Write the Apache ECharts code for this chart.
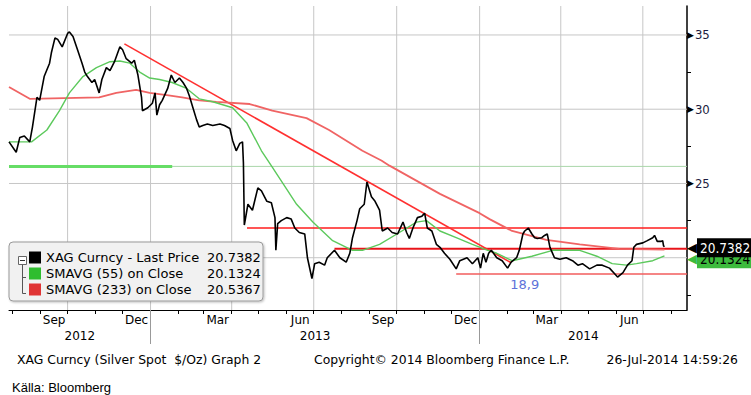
<!DOCTYPE html>
<html><head><meta charset="utf-8">
<script src="https://cdn.jsdelivr.net/npm/echarts@6/dist/echarts.min.js"></script>
<style>html,body{margin:0;padding:0;background:#fff}#c{width:751px;height:395px}</style>
</head><body><div id="c"></div>
<script>
// ---------- data ----------
const priceDates = ['2012-07-28','2012-08-05','2012-08-09','2012-08-14','2012-08-20','2012-08-23','2012-08-28','2012-08-31','2012-09-05','2012-09-11','2012-09-13','2012-09-17','2012-09-20','2012-09-25','2012-10-01','2012-10-03','2012-10-07','2012-10-12','2012-10-17','2012-10-20','2012-10-23','2012-10-28','2012-10-31','2012-11-05','2012-11-08','2012-11-13','2012-11-17','2012-11-22','2012-11-28','2012-12-01','2012-12-05','2012-12-11','2012-12-14','2012-12-18','2012-12-22','2012-12-23','2012-12-29','2013-01-03','2013-01-06','2013-01-08','2013-01-11','2013-01-14','2013-01-20','2013-01-24','2013-01-28','2013-02-02','2013-02-06','2013-02-10','2013-02-13','2013-02-17','2013-02-21','2013-02-24','2013-02-28','2013-03-05','2013-03-11','2013-03-19','2013-03-24','2013-03-30','2013-04-02','2013-04-06','2013-04-10','2013-04-13','2013-04-14','2013-04-15','2013-04-19','2013-04-24','2013-04-30','2013-05-04','2013-05-10','2013-05-15','2013-05-19','2013-05-20','2013-05-22','2013-05-26','2013-06-01','2013-06-06','2013-06-10','2013-06-15','2013-06-21','2013-06-24','2013-06-29','2013-07-02','2013-07-07','2013-07-13','2013-07-16','2013-07-24','2013-07-30','2013-08-06','2013-08-10','2013-08-13','2013-08-18','2013-08-21','2013-08-26','2013-08-29','2013-09-03','2013-09-07','2013-09-12','2013-09-15','2013-09-21','2013-09-26','2013-10-02','2013-10-08','2013-10-12','2013-10-15','2013-10-19','2013-10-24','2013-10-29','2013-11-01','2013-11-04','2013-11-09','2013-11-14','2013-11-18','2013-11-23','2013-11-29','2013-12-06','2013-12-10','2013-12-18','2013-12-24','2013-12-30','2014-01-02','2014-01-05','2014-01-08','2014-01-11','2014-01-14','2014-01-20','2014-01-26','2014-02-01','2014-02-05','2014-02-11','2014-02-14','2014-02-18','2014-02-20','2014-02-24','2014-02-28','2014-03-03','2014-03-06','2014-03-11','2014-03-14','2014-03-17','2014-03-20','2014-03-25','2014-03-31','2014-04-07','2014-04-14','2014-04-20','2014-04-25','2014-05-03','2014-05-11','2014-05-17','2014-05-25','2014-05-31','2014-06-03','2014-06-09','2014-06-14','2014-06-19','2014-06-21','2014-06-24','2014-07-01','2014-07-06','2014-07-12','2014-07-14','2014-07-17','2014-07-21','2014-07-23','2014-07-24','2014-07-25'];
const priceValues = [27.8,27.1,28.1,28.2,27.8,28.8,30.8,30.6,32.2,33.1,33.8,34.8,34.7,34.2,35.1,35.2,34.9,34.0,33.1,32.5,32.2,31.8,32.0,31.1,32.0,32.8,32.6,33.2,34.2,34.0,33.4,33.1,33.3,32.3,30.8,29.9,30.1,30.4,31.1,29.6,30.3,30.6,31.4,32.3,31.8,32.1,31.8,31.4,30.9,30.1,29.3,28.8,28.9,29.0,28.9,29.0,28.9,28.7,27.9,27.2,27.7,27.8,26.4,22.2,23.6,23.2,24.7,24.5,23.8,23.7,22.7,20.5,22.3,22.5,22.7,22.6,22.0,21.7,21.6,20.0,18.6,19.6,19.7,19.5,20.0,20.5,20.0,19.7,20.3,21.35,22.5,23.3,23.6,25.1,24.1,23.8,23.2,21.8,22.0,21.7,21.6,22.4,21.7,21.3,22.0,22.7,22.8,23.0,22.0,21.8,20.9,20.7,20.3,19.9,19.25,19.8,20.0,19.6,20.0,19.3,20.3,19.7,20.3,20.5,20.0,19.8,19.3,19.7,20.0,20.5,21.6,21.8,22.0,21.6,21.35,21.3,21.35,21.5,21.6,20.7,20.0,19.9,20.0,19.8,19.5,19.6,19.25,19.5,19.5,19.3,18.9,18.7,19.0,19.5,19.8,20.7,20.9,21.0,21.15,21.35,21.5,21.1,21.1,21.15,20.8,20.74];

const sma55Dates = ['2012-07-28','2012-08-22','2012-09-08','2012-09-22','2012-10-03','2012-10-18','2012-11-02','2012-11-17','2012-11-28','2012-12-09','2012-12-20','2012-12-31','2013-01-11','2013-01-25','2013-02-10','2013-02-24','2013-03-11','2013-04-02','2013-04-18','2013-05-04','2013-05-16','2013-06-12','2013-06-30','2013-07-22','2013-08-13','2013-08-24','2013-09-12','2013-10-04','2013-10-23','2013-11-03','2013-11-18','2013-12-06','2013-12-24','2014-01-10','2014-01-20','2014-02-06','2014-02-28','2014-03-23','2014-04-22','2014-05-11','2014-05-28','2014-06-13','2014-06-24','2014-07-12','2014-07-25'];
const sma55Values = [27.8,27.8,28.6,29.9,31.1,32.2,32.8,33.2,33.25,33.1,32.5,32.1,32.0,31.8,31.4,30.7,30.5,30.1,29.05,27.2,26.1,23.6,22.4,21.15,20.5,20.5,20.9,21.7,22.4,22.5,21.8,21.35,20.9,20.5,20.3,19.8,20.1,20.5,20.5,20.1,19.6,19.5,19.6,19.8,20.13];

const sma233Dates = ['2012-07-28','2012-08-20','2012-11-05','2012-11-24','2012-12-16','2012-12-31','2013-01-19','2013-02-05','2013-02-24','2013-03-15','2013-04-21','2013-05-16','2013-06-23','2013-07-18','2013-08-24','2013-09-14','2013-09-23','2013-11-18','2014-01-01','2014-01-12','2014-02-06','2014-03-16','2014-04-22','2014-06-05','2014-07-25'];
const sma233Values = [31.5,30.7,30.8,31.1,31.3,31.1,30.95,30.8,30.6,30.5,30.35,29.9,29.4,28.6,27.2,26.55,26.2,24.3,23.0,22.6,21.8,21.2,20.9,20.6,20.54];

const seriesNames = ['XAG Curncy - Last Price', 'SMAVG (55) on Close', 'SMAVG (233) on Close'];
const lastValues = ['20.7382', '20.1324', '20.5367'];

// drawn annotations
const trendDates = ['2012-12-03', '2014-02-05'];
const trendValues = [34.4, 19.66];
const levelStarts = ['2012-07-28', '2012-07-28', '2013-04-18', '2013-07-24', '2013-12-06'];
const levelEnds = [null, '2013-01-25', null, null, null];   // null = runs to the right axis
const levelValues = [26.15, 26.15, 22.0, 20.6, 18.9];
const levelNote = { text: '18,9', date: '2014-02-20', value: 18.9 };

// axes
const axisStart = '2012-07-28';
const axisEnd = '2014-08-19';
const yMin = 16.48, yMax = 36.95;
const yGridValues = [20, 25, 30, 35];
const yLabelValues = [25, 30, 35];          // the 20 label is hidden behind the value tags
const yMinorTicks = [17.5, 22.5, 27.5, 32.5];
const quarterLines = ['2012-10-01','2013-01-01','2013-04-01','2013-07-01','2013-10-01','2014-01-01','2014-04-01','2014-07-01'];
const yearBreaks = ['2013-01-01', '2014-01-01'];
const labelMonths = ['Mar', 'Jun', 'Sep', 'Dec'];
const monthNames = ['Jan','Feb','Mar','Apr','May','Jun','Jul','Aug','Sep','Oct','Nov','Dec'];

// ---------- helpers ----------
function ts(s) { const p = s.split('-').map(Number); return new Date(p[0], p[1] - 1, p[2]).getTime(); }
const xMin = ts(axisStart), xMax = ts(axisEnd);
const monthStarts = [], monthMids = [];
{
  const a = new Date(xMin); let y = a.getFullYear(), m = a.getMonth() + 1;
  while (true) {
    const t = new Date(y, m, 1).getTime();
    if (t > xMax) break;
    monthStarts.push(t);
    const nt = new Date(y, m + 1, 1).getTime();
    if (labelMonths.indexOf(monthNames[new Date(t).getMonth()]) >= 0) monthMids.push((t + nt) / 2);
    m++;
  }
}
const yearCenters = [];
{
  const y0 = new Date(xMin).getFullYear(), y1 = new Date(xMax).getFullYear();
  for (let y = y0; y <= y1; y++) {
    const s = Math.max(new Date(y, 0, 1).getTime(), xMin);
    const e = Math.min(new Date(y + 1, 0, 1).getTime(), xMax);
    yearCenters.push((s + e) / 2);
  }
}
const zip = (d, v) => d.map((x, i) => [ts(x), v[i]]);

const F = "'DejaVu Sans',sans-serif";
const FC = "'DejaVu Sans Condensed','DejaVu Sans',sans-serif";
const lineColors = ['#000000', '#5cc95c', '#f06464'];
const legendColors = ['#000000', '#2fbd2f', '#e03434'];
const tagBg = ['#000000', '#3dbb3d', '#e03434'];
const tagFg = ['#ffffff', '#000000', '#ffffff'];

function tag(i, dy) {
  return {
    silent: true, symbol: ['none', 'none'],
    lineStyle: { color: 'rgba(0,0,0,0)', width: 0 },
    label: {
      show: true, position: 'end', distance: 0, offset: [0, dy],
      formatter: '{a|◀}{b|' + lastValues[i] + '}',
      rich: {
        a: { color: tagBg[i], fontSize: 13, fontFamily: 'DejaVu Sans', verticalAlign: 'middle' },
        b: { color: tagFg[i], backgroundColor: tagBg[i], fontFamily: FC, fontSize: 13.5, padding: [3, 3, 2, 3], verticalAlign: 'middle' }
      }
    },
    data: [{ yAxis: Number(lastValues[i]) }]
  };
}

const levelStyles = [
  { color: '#a9d6a9', width: 1 },
  { color: '#66dd66', width: 3 },
  { color: '#ff1c1c', width: 1.5 },
  { color: '#e8141a', width: 2 },
  { color: '#f25c5c', width: 1.5 }
];
const gridColor = '#c6c6c6';

const series = [];
quarterLines.forEach((d, i) => series.push({
  name: 'vgrid' + i, type: 'line', symbol: 'none', silent: true, z: 1,
  lineStyle: { color: gridColor, width: 1 }, itemStyle: { color: gridColor },
  data: [[ts(d), yMin], [ts(d), yMax]]
}));
yGridValues.forEach((v, i) => series.push({
  name: 'hgrid' + i, type: 'line', symbol: 'none', silent: true, z: 1,
  lineStyle: { color: gridColor, width: 1 }, itemStyle: { color: gridColor },
  data: [[xMin, v], [xMax, v]]
}));
levelValues.forEach((v, i) => {
  const s = {
    name: 'level' + i, type: 'line', silent: true, z: 2, symbol: 'none',
    lineStyle: levelStyles[i], itemStyle: { color: levelStyles[i].color },
    data: [[ts(levelStarts[i]), v], [levelEnds[i] ? ts(levelEnds[i]) : xMax, v]]
  };
  if (v === levelNote.value) {
    s.markPoint = {
      silent: true, symbol: 'circle', symbolSize: 1, itemStyle: { color: 'rgba(0,0,0,0)' },
      label: { show: true, position: 'bottom', distance: 3, formatter: levelNote.text, color: '#5d72d9', fontFamily: F, fontSize: 13 },
      data: [{ coord: [ts(levelNote.date), levelNote.value] }]
    };
  }
  series.push(s);
});
series.push({
  name: 'trend', type: 'line', silent: true, z: 2, symbol: 'none',
  lineStyle: { color: '#ff3030', width: 1.6 }, itemStyle: { color: '#ff3030' },
  data: zip(trendDates, trendValues)
});
series.push({
  name: seriesNames[2], type: 'line', symbol: 'none', z: 3,
  lineStyle: { color: lineColors[2], width: 1.8 }, itemStyle: { color: legendColors[2] },
  data: zip(sma233Dates, sma233Values)
});
series.push({
  name: seriesNames[1], type: 'line', symbol: 'none', z: 4,
  lineStyle: { color: lineColors[1], width: 1.4 }, itemStyle: { color: legendColors[1] },
  data: zip(sma55Dates, sma55Values), markLine: tag(1, 3)
});
series.push({
  name: seriesNames[0], type: 'line', symbol: 'none', z: 5,
  lineStyle: { color: lineColors[0], width: 1.6 }, itemStyle: { color: legendColors[0] },
  data: zip(priceDates, priceValues), markLine: tag(0, 1)
});

const chart = echarts.init(document.getElementById('c'), null, { renderer: 'svg' });
chart.setOption({
  animation: false,
  backgroundColor: '#ffffff',
  textStyle: { fontFamily: F },
  grid: { left: 9, right: 64, top: 6, bottom: 85, containLabel: false },
  title: [
    { text: 'XAG Curncy (Silver Spot  $/Oz) Graph 2', left: 12, top: 348, textStyle: { fontFamily: F, fontSize: 12.4, fontWeight: 'normal', color: '#000' } },
    { text: 'Copyright© 2014 Bloomberg Finance L.P.', left: 309, top: 348, textStyle: { fontFamily: F, fontSize: 12.4, fontWeight: 'normal', color: '#000' } },
    { text: '26-Jul-2014 14:59:26', right: 8, top: 348, textStyle: { fontFamily: F, fontSize: 12.4, fontWeight: 'normal', color: '#000' } },
    { text: 'Källa: Bloomberg', left: 7, top: 376, textStyle: { fontFamily: "'Liberation Sans Narrow','Liberation Sans',sans-serif", fontSize: 13, fontWeight: 'normal', color: '#000' } }
  ],
  legend: {
    data: seriesNames,
    orient: 'vertical', left: 9, top: 242,
    padding: [9, 2, 5, 20], itemWidth: 12, itemHeight: 12, itemGap: 3,
    icon: 'rect', selectedMode: false,
    backgroundColor: '#f1f1f1', borderColor: '#9a9a9a', borderWidth: 1, borderRadius: 4,
    shadowColor: 'rgba(0,0,0,0.25)', shadowBlur: 2, shadowOffsetX: 1, shadowOffsetY: 1,
    formatter: n => '{n|' + n + '}{v|' + lastValues[seriesNames.indexOf(n)] + '}',
    textStyle: {
      fontFamily: F, fontSize: 13, color: '#000',
      rich: {
        n: { width: 161, fontFamily: F, fontSize: 13, color: '#000', lineHeight: 14 },
        v: { width: 54, fontFamily: F, fontSize: 13, color: '#000', lineHeight: 14 }
      }
    }
  },
  xAxis: [
    {
      type: 'value', min: xMin, max: xMax, position: 'bottom',
      axisLine: { show: true, lineStyle: { color: '#000', width: 1 } },
      axisTick: { show: true, length: 4, inside: false, customValues: monthStarts, lineStyle: { color: '#000' } },
      axisLabel: {
        show: true, customValues: monthMids, margin: 4, color: '#000', fontFamily: F, fontSize: 12,
        formatter: v => monthNames[new Date(v).getMonth()]
      },
      splitLine: { show: false }
    },
    {
      type: 'value', min: xMin, max: xMax, position: 'bottom', offset: 0,
      axisLine: { show: false },
      axisTick: { show: true, length: 34, inside: false, customValues: yearBreaks.map(ts), lineStyle: { color: '#999', width: 1 } },
      axisLabel: {
        show: true, customValues: yearCenters, margin: 20, color: '#000', fontFamily: F, fontSize: 12,
        formatter: v => String(new Date(v).getFullYear())
      },
      splitLine: { show: false }
    }
  ],
  yAxis: {
    type: 'value', position: 'right', min: yMin, max: yMax,
    axisLine: { show: true, lineStyle: { color: '#000', width: 1.5 } },
    axisTick: { show: true, length: 4, inside: false, customValues: yMinorTicks, lineStyle: { color: '#000' } },
    axisLabel: {
      show: true, customValues: yLabelValues, margin: 0,
      formatter: v => '{t|▶}{v|' + v + '}',
      rich: {
        t: { fontSize: 9, color: '#000', fontFamily: 'DejaVu Sans' },
        v: { fontSize: 13, color: '#1c1c40', fontFamily: FC, padding: [0, 0, 0, 1] }
      }
    },
    splitLine: { show: false }
  },
  graphic: [
    { type: 'rect', shape: { x: 18.5, y: 256.5, width: 8, height: 8 }, style: { fill: '#fff', stroke: '#666', lineWidth: 1 }, z: 100 },
    { type: 'line', shape: { x1: 20, y1: 260.5, x2: 25, y2: 260.5 }, style: { stroke: '#333', lineWidth: 1 }, z: 100 },
    { type: 'polyline', shape: { points: [[22.5, 265], [22.5, 293.5], [26, 293.5]] }, style: { stroke: '#555', fill: null, lineWidth: 1 }, z: 100 },
    { type: 'line', shape: { x1: 22.5, y1: 277.5, x2: 26, y2: 277.5 }, style: { stroke: '#555', lineWidth: 1 }, z: 100 }
  ],
  series: series
});
</script>
</body></html>
